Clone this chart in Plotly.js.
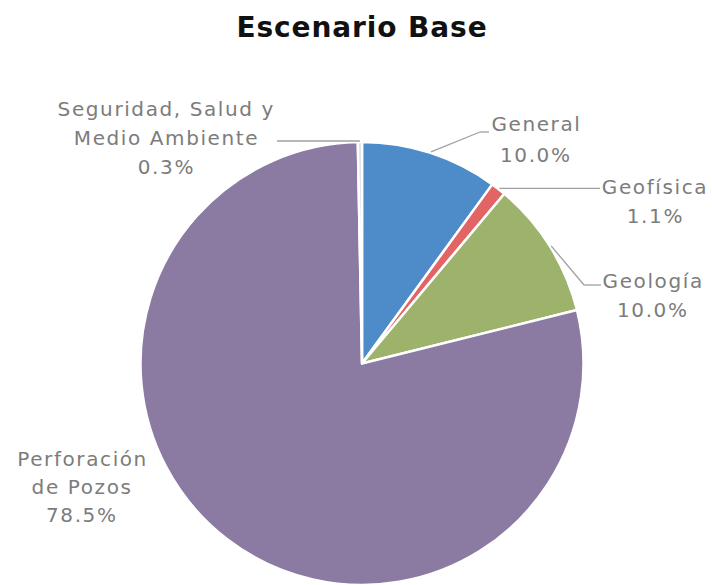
<!DOCTYPE html>
<html>
<head>
<meta charset="utf-8">
<script src="https://cdn.plot.ly/plotly-3.0.1.min.js"></script>
<style>
html,body{margin:0;padding:0;background:#fff;}
#chart{width:712px;height:585px;}
#chart .annotation-text{letter-spacing:1.6px;}
#chart .gtitle{letter-spacing:0.9px;}
</style>
</head>
<body>
<div id="chart"></div>
<script>
// ---- data ----
const categories = ['General', 'Geofísica', 'Geología', 'Perforación<br>de Pozos', 'Seguridad, Salud y<br>Medio Ambiente'];
const shares = [10.0, 1.1, 10.0, 78.5, 0.3];
const sliceColors = ['#4e8cc9', '#e26464', '#9db26b', '#8b7ba2', '#dcdcdc'];
const chartTitle = 'Escenario Base';

// ---- layout config (pixels) ----
const W = 712, H = 585;
const pieBox = {x0: 139, x1: 585, y0: 142, y1: 585};
const cx = 362, cy = 364, R = 222;
// label text placement: center x, first line center y, line step
const labelPos = [
  {x: 536, y: 124, dy: 31},
  {x: 655, y: 187, dy: 29},
  {x: 653, y: 281, dy: 29},
  {x: 82,  y: 459, dy: 28},
  {x: 166, y: 109, dy: 29}
];
// leader line points after the tip (pixel coords)
const leaderPts = [
  [[480, 132], [489, 132]],
  [[600, null]],
  [[584, 285], [601, 285]],
  null,
  [[277, 141]]
];

const px = x => x / W;
const py = y => 1 - y / H;

const total = shares.reduce((a, b) => a + b, 0);
let cum = 0;
const annotations = [];
const shapes = [];
shares.forEach((v, i) => {
  const mid = (cum + v / 2) / total;
  cum += v;
  const th = 2 * Math.PI * mid;
  const tip = [cx + (R + 1) * Math.sin(th), cy - (R + 1) * Math.cos(th)];
  const lines = (categories[i] + '<br>' + v.toFixed(1) + '%').split('<br>');
  const p = labelPos[i];
  lines.forEach((t, k) => {
    annotations.push({
      text: t, xref: 'paper', yref: 'paper', x: px(p.x), y: py(p.y + k * p.dy),
      xanchor: 'center', yanchor: 'middle', showarrow: false,
      font: {family: 'DejaVu Sans', size: 20, color: '#7c7c7c'}
    });
  });
  if (leaderPts[i]) {
    let prev = tip;
    leaderPts[i].forEach(pt => {
      const q = [pt[0], pt[1] === null ? prev[1] : pt[1]];
      shapes.push({type: 'line', xref: 'paper', yref: 'paper',
        x0: px(prev[0]), y0: py(prev[1]), x1: px(q[0]), y1: py(q[1]),
        line: {color: '#a0a0a0', width: 1.3}});
      prev = q;
    });
  }
});

const trace = {
  type: 'pie',
  labels: categories,
  values: shares,
  sort: false,
  direction: 'clockwise',
  rotation: 0,
  textinfo: 'none',
  hoverinfo: 'label+percent',
  marker: {colors: sliceColors, line: {color: '#ffffff', width: 2.5}},
  domain: {x: [pieBox.x0 / W, pieBox.x1 / W], y: [1 - pieBox.y1 / H, 1 - pieBox.y0 / H]},
  showlegend: false
};

const layout = {
  width: W, height: H,
  margin: {l: 0, r: 0, t: 0, b: 0},
  paper_bgcolor: '#ffffff',
  title: {text: '<b>' + chartTitle + '</b>', x: 362 / W, xanchor: 'center', y: 1 - 27 / H, yanchor: 'middle',
    font: {family: 'DejaVu Sans', size: 28, color: '#111111'}},
  annotations: annotations,
  shapes: shapes,
  showlegend: false
};

Plotly.newPlot('chart', [trace], layout, {displayModeBar: false});
</script>
</body>
</html>
